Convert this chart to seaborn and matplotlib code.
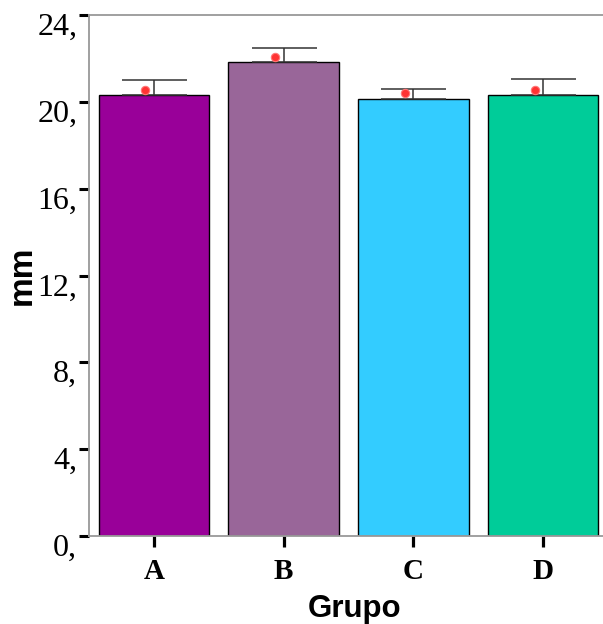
import numpy as np
import pandas as pd
import seaborn as sns
import matplotlib
matplotlib.use('Agg')
import matplotlib.pyplot as plt
import matplotlib.transforms as mtransforms

# --- data ---
groups = ['A', 'B', 'C', 'D']
means = [20.33, 21.84, 20.16, 20.31]
err_up = [0.67, 0.65, 0.43, 0.77]
points = [20.56, 22.09, 20.41, 20.56]
colors = ['#990099', '#996699', '#33CCFF', '#00CC99']
y_ticks = [0, 4, 8, 12, 16, 20, 24]
y_labels = ['0,', '4,', '8,', '12,', '16,', '20,', '24,']

df = pd.DataFrame({'Grupo': groups, 'mm': means})

sns.set_style('white')
plt.rcParams['font.family'] = ['Liberation Serif', 'DejaVu Serif']
plt.rcParams['text.color'] = 'black'
plt.rcParams['axes.labelcolor'] = 'black'
plt.rcParams['xtick.color'] = 'black'
plt.rcParams['ytick.color'] = 'black'

fig = plt.figure(figsize=(6.03, 6.24), dpi=100)
ax = fig.add_axes([89 / 603, 88.3 / 624, 519 / 603, 520.4 / 624])

sns.barplot(data=df, x='Grupo', y='mm', hue='Grupo', palette=colors,
            width=0.85, edgecolor='black', linewidth=1.0, legend=False,
            errorbar=None, saturation=1, ax=ax)

pos = np.arange(len(groups))
ax.errorbar(pos, means, yerr=[np.zeros(len(groups)), err_up], fmt='none',
            ecolor='#333333', elinewidth=1.1, capsize=23.4, capthick=1.1, zorder=3)
ax.scatter(pos - 0.065, points, s=36, color='#ff3333', edgecolor='#ff7777',
           linewidth=0.8, zorder=4)

ax.set_xlim(-0.5, 3.5)
ax.set_ylim(0, 24)
ax.set_yticks(y_ticks)
ax.set_yticklabels(y_labels, fontsize=23)
ax.set_xticks(pos)
ax.set_xticklabels(groups, fontsize=21, fontweight='bold')

ax.tick_params(axis='y', left=True, direction='out', length=7.5, width=2.2,
               color='black', labelcolor='black', pad=1)
ax.tick_params(axis='x', bottom=True, direction='out', length=8, width=2.3,
               color='black', labelcolor='black', pad=8)

# y labels sit just under their tick, as in the original
shift = mtransforms.ScaledTranslation(0, 2 / 100, fig.dpi_scale_trans)
for lab in ax.get_yticklabels():
    lab.set_va('top')
    lab.set_transform(lab.get_transform() + shift)

for side in ['left', 'top', 'bottom', 'right']:
    ax.spines[side].set_color('#999999')
    ax.spines[side].set_linewidth(1.3)

ax.set_ylabel('mm', fontsize=24, fontweight='bold', color='black',
              family=['Liberation Sans', 'DejaVu Sans'], va='center', ha='center')
ax.yaxis.set_label_coords(-0.128, 0.5)
ax.set_xlabel('Grupo', fontsize=22.5, fontweight='bold', color='black',
              family=['Liberation Sans', 'DejaVu Sans'], va='top')
ax.xaxis.set_label_coords(0.5125, -0.112)

fig.savefig('out.png', dpi=100)
